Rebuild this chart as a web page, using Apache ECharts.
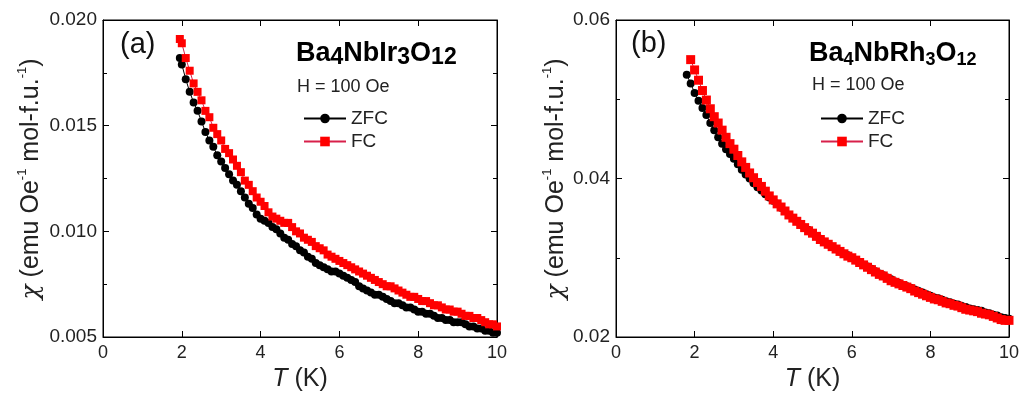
<!DOCTYPE html>
<html>
<head>
<meta charset="utf-8">
<script src="https://cdn.jsdelivr.net/npm/echarts@6/dist/echarts.min.js"></script>
<style>
  html, body { margin: 0; padding: 0; background: #fff; }
  #chart { width: 1020px; height: 394px; }
</style>
</head>
<body>
<div id="chart"></div>
<script>
// panel (a): Ba4NbIr3O12
const tA = [1.95, 2.0, 2.1, 2.2, 2.3, 2.4, 2.5, 2.6, 2.7, 2.8, 2.9, 3.0, 3.1, 3.2, 3.3, 3.4, 3.5, 3.6, 3.7, 3.8, 3.9,
  4.0, 4.1, 4.2, 4.3, 4.4, 4.5, 4.6, 4.7, 4.8, 4.9, 5.0, 5.1, 5.2, 5.3, 5.4, 5.5, 5.6, 5.7, 5.8, 5.9,
  6.0, 6.1, 6.2, 6.3, 6.4, 6.5, 6.6, 6.7, 6.8, 6.9, 7.0, 7.1, 7.2, 7.3, 7.4, 7.5, 7.6, 7.7, 7.8, 7.9,
  8.0, 8.1, 8.2, 8.3, 8.4, 8.5, 8.6, 8.7, 8.8, 8.9, 9.0, 9.1, 9.2, 9.3, 9.4, 9.5, 9.6, 9.7, 9.8, 9.9, 10.0];
const zfcA = [0.0182, 0.0179, 0.0172, 0.0166, 0.0161, 0.0157, 0.0152, 0.0147, 0.0143, 0.0140, 0.0136, 0.0133, 0.0130, 0.0127, 0.0124, 0.0122, 0.0119, 0.0116, 0.0113, 0.0111, 0.0108,
  0.0106, 0.0105, 0.0104, 0.0102, 0.0101, 0.0099, 0.0097, 0.0096, 0.0094, 0.0093, 0.0091, 0.0090, 0.0088, 0.0087, 0.0085, 0.0084, 0.0083, 0.0082, 0.0081, 0.0081,
  0.0080, 0.0079, 0.0078, 0.0077, 0.0076, 0.0074, 0.0073, 0.0072, 0.0071, 0.0070, 0.0070, 0.0069, 0.0068, 0.0067, 0.0066, 0.0066, 0.0065, 0.0064, 0.0064, 0.0063,
  0.0062, 0.0062, 0.0061, 0.0061, 0.0060, 0.0059, 0.0059, 0.0058, 0.0058, 0.0057, 0.0057, 0.0057, 0.0056, 0.0055, 0.0055, 0.0054, 0.0054, 0.0053, 0.0053, 0.0052, 0.0052];
const fcA = [0.0191, 0.0189, 0.0182, 0.0176, 0.0170, 0.0166, 0.0162, 0.0157, 0.0154, 0.0149, 0.0146, 0.0143, 0.0139, 0.0137, 0.0134, 0.0131, 0.0128, 0.0124, 0.0122, 0.0119, 0.0116,
  0.0114, 0.0112, 0.0109, 0.0107, 0.0106, 0.0105, 0.0104, 0.0104, 0.0102, 0.0100, 0.0099, 0.0097, 0.0096, 0.0095, 0.0093, 0.0092, 0.0091, 0.0089, 0.0088, 0.0087,
  0.0086, 0.0085, 0.0084, 0.0083, 0.0082, 0.0081, 0.0080, 0.0079, 0.0078, 0.0077, 0.0076, 0.0075, 0.0074, 0.0074, 0.0073, 0.0072, 0.0071, 0.0070, 0.0069, 0.0069,
  0.0068, 0.0067, 0.0067, 0.0066, 0.0065, 0.0065, 0.0064, 0.0063, 0.0063, 0.0062, 0.0062, 0.0061, 0.0060, 0.0060, 0.0059, 0.0059, 0.0058, 0.0057, 0.0056, 0.0056, 0.0055];

// panel (b): Ba4NbRh3O12
const tZfcB = [1.8, 1.9, 2.0, 2.1, 2.2, 2.3, 2.4, 2.5, 2.6, 2.7, 2.8, 2.9, 3.0, 3.1, 3.2, 3.3, 3.4, 3.5, 3.6, 3.7, 3.8, 3.9,
  4.0, 4.1, 4.2, 4.3, 4.4, 4.5, 4.6, 4.7, 4.8, 4.9, 5.0, 5.1, 5.2, 5.3, 5.4, 5.5, 5.6, 5.7, 5.8, 5.9,
  6.0, 6.1, 6.2, 6.3, 6.4, 6.5, 6.6, 6.7, 6.8, 6.9, 7.0, 7.1, 7.2, 7.3, 7.4, 7.5, 7.6, 7.7, 7.8, 7.9,
  8.0, 8.1, 8.2, 8.3, 8.4, 8.5, 8.6, 8.7, 8.8, 8.9, 9.0, 9.1, 9.2, 9.3, 9.4, 9.5, 9.6, 9.7, 9.8, 9.9, 10.0];
const zfcB = [0.0531, 0.0520, 0.0508, 0.0498, 0.0489, 0.0480, 0.0470, 0.0461, 0.0452, 0.0444, 0.0437, 0.0431, 0.0425, 0.0418, 0.0411, 0.0405, 0.0400, 0.0394, 0.0389, 0.0385, 0.0380, 0.0376,
  0.0372, 0.0368, 0.0363, 0.0359, 0.0354, 0.0350, 0.0346, 0.0342, 0.0338, 0.0335, 0.0331, 0.0327, 0.0324, 0.0320, 0.0317, 0.0314, 0.0311, 0.0308, 0.0305, 0.0303,
  0.0300, 0.0297, 0.0294, 0.0291, 0.0289, 0.0286, 0.0283, 0.0280, 0.0278, 0.0275, 0.0273, 0.0270, 0.0268, 0.0266, 0.0264, 0.0262, 0.0260, 0.0258, 0.0256, 0.0254,
  0.0252, 0.0250, 0.0249, 0.0247, 0.0245, 0.0244, 0.0242, 0.0241, 0.0239, 0.0238, 0.0236, 0.0235, 0.0234, 0.0233, 0.0231, 0.0230, 0.0228, 0.0227, 0.0225, 0.0224, 0.0223];
const tFcB = [1.9, 2.0, 2.1, 2.2, 2.3, 2.4, 2.5, 2.6, 2.7, 2.8, 2.9, 3.0, 3.1, 3.2, 3.3, 3.4, 3.5, 3.6, 3.7, 3.8, 3.9,
  4.0, 4.1, 4.2, 4.3, 4.4, 4.5, 4.6, 4.7, 4.8, 4.9, 5.0, 5.1, 5.2, 5.3, 5.4, 5.5, 5.6, 5.7, 5.8, 5.9,
  6.0, 6.1, 6.2, 6.3, 6.4, 6.5, 6.6, 6.7, 6.8, 6.9, 7.0, 7.1, 7.2, 7.3, 7.4, 7.5, 7.6, 7.7, 7.8, 7.9,
  8.0, 8.1, 8.2, 8.3, 8.4, 8.5, 8.6, 8.7, 8.8, 8.9, 9.0, 9.1, 9.2, 9.3, 9.4, 9.5, 9.6, 9.7, 9.8, 9.9, 10.0];
const fcB = [0.0550, 0.0537, 0.0524, 0.0511, 0.0499, 0.0488, 0.0478, 0.0470, 0.0461, 0.0452, 0.0444, 0.0437, 0.0429, 0.0421, 0.0414, 0.0407, 0.0401, 0.0395, 0.0390, 0.0384, 0.0378,
  0.0373, 0.0368, 0.0364, 0.0359, 0.0354, 0.0350, 0.0346, 0.0342, 0.0338, 0.0334, 0.0331, 0.0327, 0.0323, 0.0320, 0.0317, 0.0314, 0.0311, 0.0308, 0.0305, 0.0302,
  0.0300, 0.0297, 0.0294, 0.0291, 0.0288, 0.0285, 0.0282, 0.0279, 0.0277, 0.0274, 0.0271, 0.0269, 0.0267, 0.0265, 0.0263, 0.0261, 0.0258, 0.0256, 0.0254, 0.0252,
  0.0250, 0.0248, 0.0247, 0.0245, 0.0243, 0.0242, 0.0240, 0.0239, 0.0237, 0.0235, 0.0234, 0.0233, 0.0232, 0.0230, 0.0229, 0.0228, 0.0226, 0.0224, 0.0222, 0.0221, 0.0221];

const pairs = (xs, ys) => xs.map((x, i) => [x, ys[i]]);

const FONT = "Liberation Sans";
const textCol = "#222";

const chart = echarts.init(document.getElementById("chart"), null, { renderer: "canvas" });

const yNameRich = {
  chi: { fontFamily: "DejaVu Serif", fontStyle: "italic", fontSize: 25, fill: textCol },
  n: { fontFamily: FONT, fontSize: 25, fill: textCol },
  sup: { fontFamily: FONT, fontSize: 13, fill: textCol, verticalAlign: "top", lineHeight: 30 }
};
const yNameText = "{chi|χ}{n| (emu Oe}{sup|-1}{n| mol-f.u.}{sup|-1}{n|)}";
const xNameText = "{it|T}{n| (K)}";
const xNameRich = {
  it: { fontFamily: FONT, fontStyle: "italic", fontSize: 25, color: textCol },
  n: { fontFamily: FONT, fontSize: 25, color: textCol }
};

const tickStyle = { inside: true, length: 6, lineStyle: { color: "#000" } };
const lineSt = { show: true, onZero: false, lineStyle: { color: "#000", width: 1 } };

function xMain(gi) {
  return {
    type: "value", gridIndex: gi, min: 0, max: 10, interval: 2,
    name: xNameText, nameLocation: "middle", nameGap: 29,
    nameTextStyle: { rich: xNameRich },
    axisLine: lineSt, axisTick: tickStyle,
    axisLabel: { fontFamily: FONT, fontSize: 18, color: textCol, margin: 7 },
    splitLine: { show: false }
  };
}
function xMirror(gi) {
  return {
    type: "value", gridIndex: gi, min: 0, max: 10, interval: 2, position: "top",
    axisLine: lineSt, axisTick: tickStyle,
    axisLabel: { show: false }, splitLine: { show: false }
  };
}
function yMain(gi, min, max, interval, digits) {
  return {
    type: "value", gridIndex: gi, min: min, max: max, interval: interval,
    axisLine: lineSt, axisTick: tickStyle,
    minorTick: { show: true, splitNumber: 2, length: 4, lineStyle: { color: "#000" } },
    axisLabel: { fontFamily: FONT, fontSize: 19, color: textCol, margin: 6, formatter: (v) => v.toFixed(digits) },
    splitLine: { show: false }
  };
}
function yMirror(gi, min, max, interval) {
  return {
    type: "value", gridIndex: gi, min: min, max: max, interval: interval, position: "right",
    axisLine: lineSt, axisTick: tickStyle,
    minorTick: { show: true, splitNumber: 2, length: 4, lineStyle: { color: "#000" } },
    axisLabel: { show: false }, splitLine: { show: false }
  };
}

const titleRich = (size, subSize) => ({
  b: { fontFamily: FONT, fontWeight: "bold", fontSize: size, lineHeight: 32, fill: "#000" },
  s: { fontFamily: FONT, fontWeight: "bold", fontSize: subSize, lineHeight: subSize, verticalAlign: "bottom", fill: "#000" }
});

const legendBase = {
  data: ["ZFC", "FC"], orient: "vertical", top: 104,
  itemWidth: 42, itemHeight: 12, itemGap: 4, selectedMode: false,
  textStyle: { fontFamily: FONT, fontSize: 19, color: textCol }
};

const gridBase = { top: 20, bottom: 57, outerBoundsMode: "none", containLabel: false,
  show: true, borderColor: "#000", borderWidth: 1, backgroundColor: "transparent" };

const option = {
  backgroundColor: "#fff",
  animation: false,
  grid: [
    Object.assign({}, gridBase, { left: 103, right: 523 }),
    Object.assign({}, gridBase, { left: 616, right: 11 })
  ],
  xAxis: [xMain(0), xMirror(0), xMain(1), xMirror(1)],
  yAxis: [
    yMain(0, 0.005, 0.020, 0.005, 3), yMirror(0, 0.005, 0.020, 0.005),
    yMain(1, 0.02, 0.06, 0.02, 2), yMirror(1, 0.02, 0.06, 0.02)
  ],
  legend: [
    Object.assign({}, legendBase, { left: 298 }),
    Object.assign({}, legendBase, { left: 815 })
  ],
  graphic: [
    { type: "text", left: 120, top: 30, style: { text: "(a)", fontFamily: FONT, fontSize: 29, fill: "#111" } },
    { type: "text", left: 631, top: 29, style: { text: "(b)", fontFamily: FONT, fontSize: 29, fill: "#111" } },
    { type: "text", left: 296, top: 40, style: { text: "{b|Ba}{s|4}{b|NbIr}{s|3}{b|O}{s|12}", rich: titleRich(27, 23) } },
    { type: "text", left: 809, top: 40, style: { text: "{b|Ba}{s|4}{b|NbRh}{s|3}{b|O}{s|12}", rich: titleRich(27, 18) } },
    { type: "text", left: 297, top: 78, style: { text: "H = 100 Oe", fontFamily: FONT, fontSize: 18, fill: textCol } },
    { type: "text", left: 812, top: 76, style: { text: "H = 100 Oe", fontFamily: FONT, fontSize: 18, fill: textCol } },
    {
      type: "text", x: 31, y: 179, rotation: Math.PI / 2,
      style: { text: yNameText, rich: yNameRich, align: "center", verticalAlign: "middle" }
    },
    {
      type: "text", x: 556, y: 179, rotation: Math.PI / 2,
      style: { text: yNameText, rich: yNameRich, align: "center", verticalAlign: "middle" }
    }
  ],
  series: [
    {
      name: "ZFC", type: "line", xAxisIndex: 0, yAxisIndex: 0, data: pairs(tA, zfcA),
      symbol: "circle", symbolSize: 8, itemStyle: { color: "#000" },
      lineStyle: { color: "#000", width: 1 }
    },
    {
      name: "FC", type: "line", xAxisIndex: 0, yAxisIndex: 0, data: pairs(tA, fcA),
      symbol: "rect", symbolSize: 8, itemStyle: { color: "#ff0000" },
      lineStyle: { color: "#d8204a", width: 1 }
    },
    {
      name: "ZFC", type: "line", xAxisIndex: 2, yAxisIndex: 2, data: pairs(tZfcB, zfcB),
      symbol: "circle", symbolSize: 8, itemStyle: { color: "#000" },
      lineStyle: { color: "#000", width: 1 }
    },
    {
      name: "FC", type: "line", xAxisIndex: 2, yAxisIndex: 2, data: pairs(tFcB, fcB),
      symbol: "rect", symbolSize: 9, itemStyle: { color: "#ff0000" },
      lineStyle: { color: "#d8204a", width: 1 }
    }
  ]
};

chart.setOption(option);
</script>
</body>
</html>
